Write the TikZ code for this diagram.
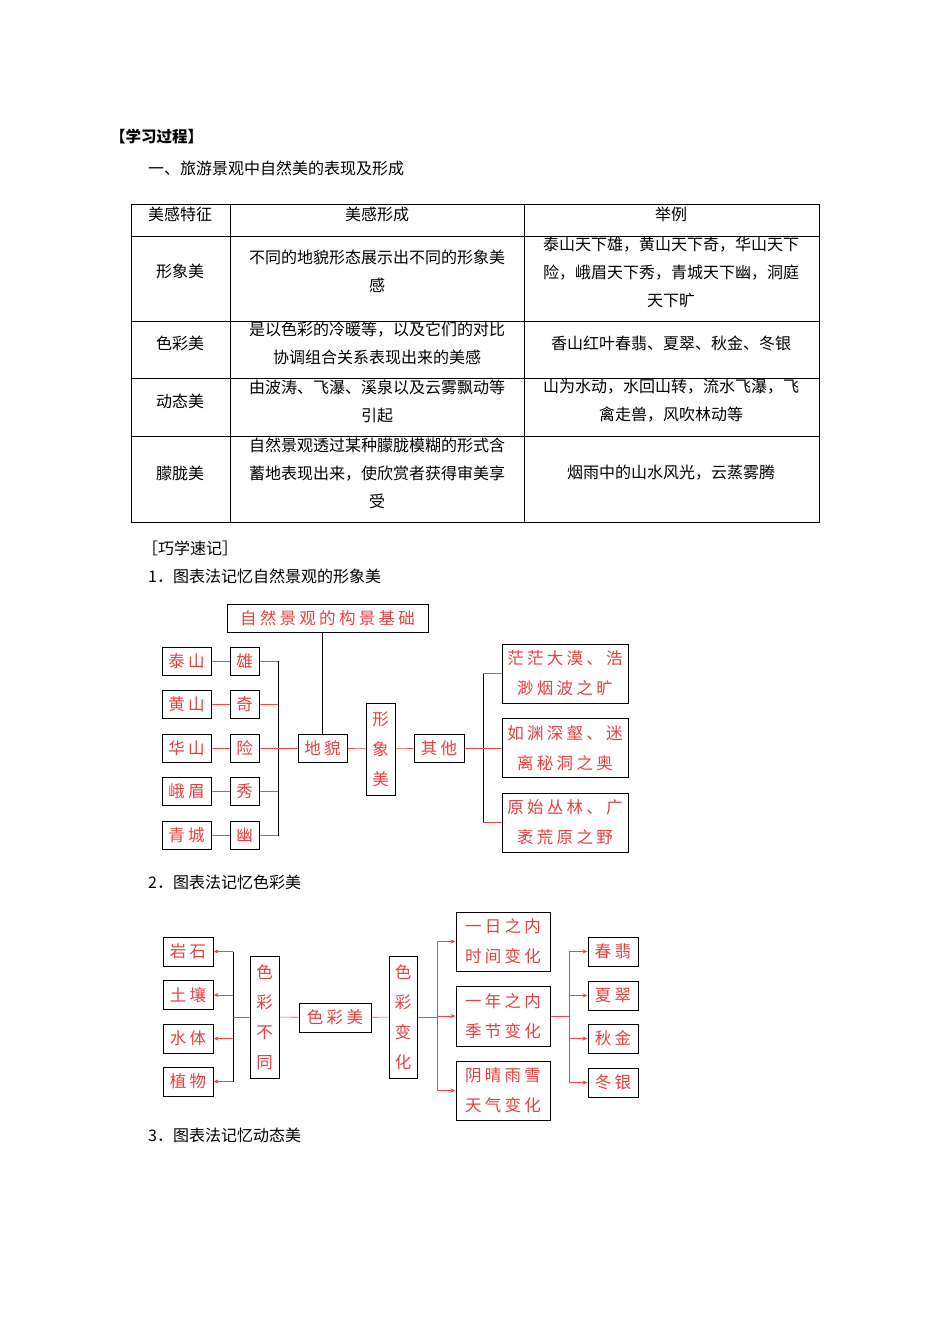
\documentclass[tikz,border=0pt]{standalone}
\usepackage{fontspec}
\setmainfont{Noto Sans CJK SC}
\newfontfamily\cjkd[LetterSpace=20,Color=E8403F]{Noto Sans CJK SC}
\usetikzlibrary{arrows.meta}
\begin{document}
\begin{tikzpicture}[x=1pt,y=-1pt,
 tx/.style={font=\fontsize{16}{28}\selectfont,align=center,inner sep=0},
 bx/.style={draw=black,line width=1pt,font=\cjkd\fontsize{16.5}{30}\selectfont,align=center,inner sep=0},
 rl/.style={draw=red!75!white,line width=0.6pt},
 bl/.style={draw=black,line width=0.6pt},
 ar/.style={rl,-{Stealth[length=5pt,width=4pt]}}]
\useasboundingbox (0,0) rectangle (950,1344);
\fill[white] (0,0) rectangle (950,1344);
\node[tx,anchor=west,font=\bfseries\fontsize{15.5}{18}\selectfont] (h) at (110,137) {【学习过程】};
\node[tx,anchor=west] (h1) at (148,168) {一、旅游景观中自然美的表现及形成};
% table
\draw[line width=0.6pt] (131,204) rectangle (819,522);
\foreach \y in {236,321,378,436} \draw[line width=0.6pt] (131,\y) -- (819,\y);
\foreach \x in {230,524} \draw[line width=0.6pt] (\x,204) -- (\x,522);
\node[tx] (c11) at (180,214) {美感特征};
\node[tx] (c12) at (377,214) {美感形成};
\node[tx] (c13) at (671,214) {举例};
\node[tx] (c21) at (180,271) {形象美};
\node[tx] (c22) at (377,271) {不同的地貌形态展示出不同的形象美\\感};
\node[tx] (c23) at (671,272) {泰山天下雄，黄山天下奇，华山天下\\险，峨眉天下秀，青城天下幽，洞庭\\天下旷};
\node[tx] (c31) at (180,343) {色彩美};
\node[tx] (c32) at (377,343) {是以色彩的冷暖等，以及它们的对比\\协调组合关系表现出来的美感};
\node[tx] (c33) at (671,343) {香山红叶春翡、夏翠、秋金、冬银};
\node[tx] (c41) at (180,401) {动态美};
\node[tx] (c42) at (377,401) {由波涛、飞瀑、溪泉以及云雾飘动等\\引起};
\node[tx] (c43) at (671,401) {山为水动，水回山转，流水飞瀑，飞\\禽走兽，风吹林动等};
\node[tx] (c51) at (180,473) {朦胧美};
\node[tx] (c52) at (377,473) {自然景观透过某种朦胧模糊的形式含\\蓄地表现出来，使欣赏者获得审美享\\受};
\node[tx] (c53) at (671,473) {烟雨中的山水风光，云蒸雾腾};
\node[tx,anchor=west] (q) at (142,548) {［巧学速记］};
\node[tx,anchor=west] (t1) at (148,576) {1．图表法记忆自然景观的形象美};
\node[tx,anchor=west] (t2) at (148,882) {2．图表法记忆色彩美};
\node[tx,anchor=west] (t3) at (148,1135) {3．图表法记忆动态美};
% diagram 1
\node[bx,minimum width=201,minimum height=28] (top) at (327.5,618) {自然景观的构景基础};
\foreach \n/\a/\b/\y in {1/泰山/雄/661,2/黄山/奇/704.5,3/华山/险/748,4/峨眉/秀/791.5,5/青城/幽/835.5}{
 \node[bx,minimum width=49,minimum height=28] (L\n) at (186.5,\y) {\a};
 \node[bx,minimum width=29,minimum height=28] (M\n) at (244.5,\y) {\b};
 \draw[rl] (L\n) -- (M\n);
 \draw[rl] (M\n.east) -- (278,\y);
}
\coordinate (b1t) at (278,661); \coordinate (b1b) at (278,835.5);
\draw[bl] (b1t) -- (b1b);
\node[bx,minimum width=49,minimum height=28] (dm) at (322.5,748) {地貌};
\draw[rl] (278,748) -- (dm);
\draw[bl] (top.south -| dm) -- (dm.north);
\node[bx,minimum width=29,minimum height=92] (xx) at (380.5,749) {形\\象\\美};
\node[bx,minimum width=50,minimum height=28] (qt) at (439,748) {其他};
\draw[rl] (dm) -- (xx);
\draw[rl] (xx) -- (qt);
\node[bx,minimum width=126,minimum height=59] (R1) at (565,673.5) {茫茫大漠、浩\\渺烟波之旷};
\node[bx,minimum width=126,minimum height=59] (R2) at (565,748) {如渊深壑、迷\\离秘洞之奥};
\node[bx,minimum width=126,minimum height=59] (R3) at (565,822.5) {原始丛林、广\\袤荒原之野};
\draw[bl] (483,673.5) -- (483,822.5);
\draw[rl] (qt) -- (R2);
\draw[rl] (483,673.5) -- (R1.west);
\draw[rl] (483,822.5) -- (R3.west);
% diagram 2
\foreach \n/\a/\y in {1/岩石/951.5,2/土壤/995,3/水体/1038.5,4/植物/1081.5}{
 \node[bx,minimum width=50,minimum height=29] (A\n) at (188,\y) {\a};
 \draw[ar] (233,\y) -- (A\n.east);
}
\draw[bl] (233,951.5) -- (233,1081.5);
\node[bx,minimum width=29,minimum height=122] (sb) at (264.5,1017) {色\\彩\\不\\同};
\node[bx,minimum width=72,minimum height=29] (sm) at (335,1017.5) {色彩美};
\node[bx,minimum width=28,minimum height=122] (sh) at (403,1017) {色\\彩\\变\\化};
\draw[rl] (233,1017) -- (sb);
\draw[rl] (sb) -- (sm);
\draw[rl] (sm) -- (sh);
\node[bx,minimum width=94,minimum height=59] (B1) at (503,941.5) {一日之内\\时间变化};
\node[bx,minimum width=94,minimum height=60] (B2) at (503,1016) {一年之内\\季节变化};
\node[bx,minimum width=94,minimum height=59] (B3) at (503,1090.5) {阴晴雨雪\\天气变化};
\draw[rl] (sh) -- (437,1017);
\draw[rl] (437,941.5) -- (437,1090.5);
\draw[ar] (437,941.5) -- (B1.west);
\draw[ar] (437,1016) -- (B2.west);
\draw[ar] (437,1090.5) -- (B3.west);
\draw[rl] (B2) -- (569,1016);
\draw[rl] (569,951.5) -- (569,1082.5);
\foreach \n/\a/\y in {1/春翡/951.5,2/夏翠/995.5,3/秋金/1038.5,4/冬银/1082.5}{
 \node[bx,minimum width=50,minimum height=29] (C\n) at (613,\y) {\a};
 \draw[ar] (569,\y) -- (C\n.west);
}
\end{tikzpicture}
\end{document}
